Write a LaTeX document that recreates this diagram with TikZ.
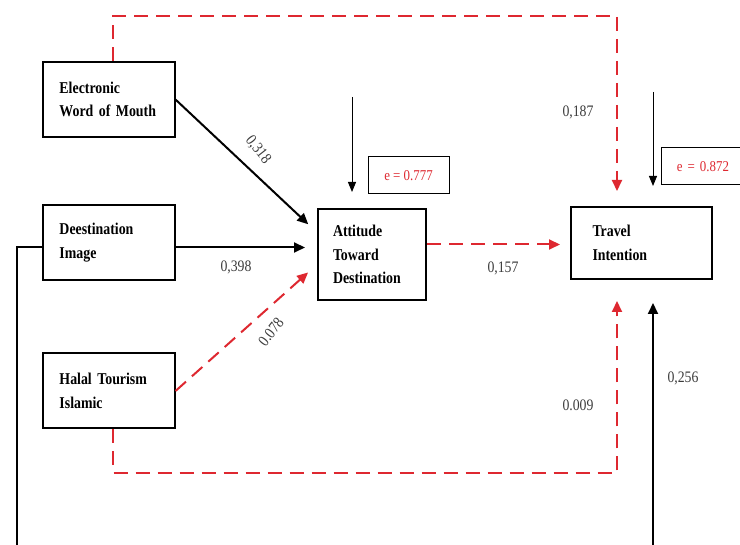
\documentclass[tikz,border=0pt]{standalone}
\usepackage{fontspec}
\setmainfont{Liberation Serif}
\newfontfamily\boxfont[FakeStretch=0.84]{Liberation Serif}
\newfontfamily\labfont[FakeStretch=0.86]{Liberation Serif}
\usetikzlibrary{arrows.meta,calc}
\definecolor{pathred}{RGB}{222,40,48}
\definecolor{labgray}{RGB}{60,60,60}
\tikzset{
  varbox/.style={draw, line width=2pt, minimum height=75pt, inner xsep=0pt, align=left,
    font=\boxfont\bfseries\fontsize{16.5}{23.5}\selectfont},
  errbox/.style={draw, line width=1pt, text=pathred, font=\labfont\fontsize{15}{17}\selectfont},
  blackarrow/.style={line width=2pt, -{Triangle[length=11pt,width=10pt]}},
  redarrow/.style={line width=2pt, draw=pathred, dash pattern=on 14pt off 8pt,
    -{Triangle[length=11pt,width=10pt,fill=pathred]}},
  thinarrow/.style={line width=1pt, -{Triangle[length=10pt,width=8pt]}},
  coef/.style={text=labgray, font=\labfont\fontsize{16}{18}\selectfont, inner sep=0pt}
}
\begin{document}
\begin{tikzpicture}[x=1pt,y=-1pt]
\useasboundingbox (0,0) rectangle (740,545);
\clip (0,0) rectangle (740,545);
\fill[white] (0,0) rectangle (740,545);

% variable boxes
\node[varbox, minimum width=132pt, text width=98pt] (ewom) at (108.5,99.5) {Electronic\\Word of Mouth};
\node[varbox, minimum width=132pt, text width=98pt] (dest) at (108.5,242.5) {Deestination\\Image};
\node[varbox, minimum width=132pt, text width=98pt] (halal) at (108.5,391) {Halal Tourism\\Islamic};
\node[varbox, minimum width=108pt, minimum height=91pt, text width=78pt] (att) at (372,254.5) {Attitude\\Toward\\Destination};
\node[varbox, minimum width=141pt, minimum height=72pt, text width=98pt] (trav) at (641.5,243) {Travel\\Intention};

% error boxes
\node[errbox, minimum width=81pt, minimum height=37pt] (e1) at (408.5,175.5) {e = 0.777};
\node[errbox, minimum width=84pt, minimum height=37pt, text width=66pt, align=center] (e2) at (703,166.5) {e = 0.872};

% error arrows
\coordinate (e1s) at (352,97);
\coordinate (e2s) at (653,92);
\draw[thinarrow, shorten >=16pt] (e1s) -- ([xshift=-20pt]att.north);
\draw[thinarrow, shorten >=20pt] (e2s) -- ([xshift=11.5pt]trav.north);

% direct paths to attitude
\draw[blackarrow, shorten >=12pt] (ewom.east) -- ([yshift=22pt]att.west);
\draw[blackarrow, shorten >=12pt] ([yshift=-5pt]dest.east) -- ([yshift=7pt]att.west);
\draw[redarrow, shorten >=12pt] (halal.east) -- ([yshift=-10pt]att.west);

% attitude to travel
\coordinate (ae) at ([yshift=10pt]att.east);
\draw[redarrow, shorten >=10pt] (ae) -- (ae -| trav.west);

% EWOM to travel (top)
\coordinate (et) at ([xshift=4.5pt]ewom.north);
\coordinate (tt) at ([xshift=-24.5pt]trav.north);
\coordinate (topc) at (et |- 0,16);
\draw[redarrow, shorten >=15pt] (et) -- (topc) -| (tt);

% Halal to travel (bottom)
\coordinate (hb) at ([xshift=4.5pt]halal.south);
\coordinate (tb) at ([xshift=-24.5pt]trav.south);
\coordinate (botc) at (hb |- 0,473);
\draw[redarrow, shorten >=21pt] (hb) -- (botc) -| (tb);

% Destination image to travel (around the bottom)
\coordinate (dw) at ([yshift=-5pt]dest.west);
\coordinate (dl) at (17,0 |- dw);
\coordinate (dlb) at (17,570);
\coordinate (tb2) at ([xshift=11.5pt]trav.south);
\draw[blackarrow, shorten >=23pt] (dw) -- (dl) -- (dlb) -| (tb2);

% coefficients
\node[coef, rotate=-52] (c1) at (258,150) {0,318};
\node[coef] (c2) at (236,267) {0,398};
\node[coef, rotate=52] (c3) at (271,332) {0.078};
\node[coef] (c4) at (503,268) {0,157};
\node[coef] (c5) at (578,112) {0,187};
\node[coef] (c6) at (578,405) {0.009};
\node[coef] (c7) at (683,378) {0,256};
\end{tikzpicture}
\end{document}
